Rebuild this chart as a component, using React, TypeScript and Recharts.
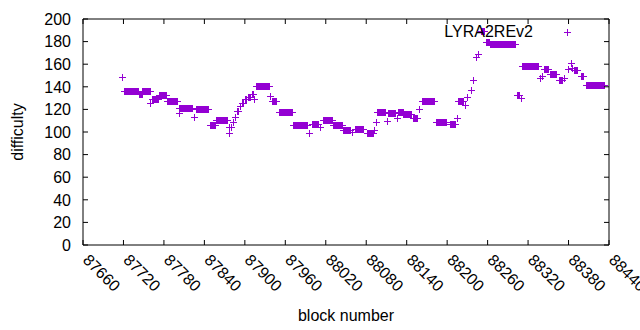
import React from "react";
import {
  ReferenceArea,
  Scatter,
  ScatterChart,
  XAxis,
  YAxis,
} from "recharts";

// runs of equal difficulty (first block, last block, value)
const runStart = [
  87718, 87721, 87743, 87748, 87760, 87763, 87772, 87784, 87802, 87803,
  87824, 87828, 87848, 87857, 87876, 87877, 87880, 87883, 87886, 87889,
  87893, 87896, 87900, 87904, 87910, 87914, 87917, 87938, 87941, 87950,
  87972, 87995, 88000, 88012, 88016, 88031, 88046, 88059, 88063, 88081,
  88092, 88094, 88096, 88111, 88112, 88125, 88127, 88135, 88149, 88158,
  88162, 88183, 88204, 88214, 88216, 88226, 88230, 88235, 88238, 88243,
  88245, 88250, 88258, 88264, 88304, 88310, 88311, 88337, 88340, 88343,
  88353, 88366, 88373, 88379, 88383, 88385, 88388, 88398, 88406,
];
const runEnd = [
  87718, 87741, 87747, 87759, 87760, 87771, 87783, 87800, 87802, 87822,
  87824, 87846, 87856, 87873, 87876, 87877, 87880, 87883, 87886, 87890,
  87893, 87897, 87901, 87907, 87912, 87914, 87936, 87938, 87946, 87970,
  87992, 87995, 88009, 88012, 88029, 88044, 88056, 88059, 88075, 88090,
  88092, 88094, 88108, 88111, 88122, 88125, 88134, 88147, 88155, 88158,
  88181, 88199, 88211, 88214, 88223, 88226, 88230, 88235, 88239, 88243,
  88246, 88255, 88262, 88300, 88306, 88310, 88334, 88337, 88340, 88350,
  88362, 88370, 88373, 88379, 88383, 88385, 88393, 88402, 88433,
];
const runDifficulty = [
  149, 136, 134, 136, 126, 129, 133, 127, 117, 121,
  113, 120, 106, 111, 104, 99, 104, 109, 113, 119,
  123, 126, 129, 131, 134, 129, 141, 132, 127, 118,
  106, 99, 107, 104, 111, 106, 102, 100, 103, 99,
  102, 109, 118, 110, 117, 112, 118, 116, 112, 120,
  127, 109, 107, 112, 127, 124, 131, 137, 146, 166,
  169, 189, 180, 178, 133, 130, 158, 148, 150, 156,
  151, 146, 148, 156, 161, 157, 155, 150, 142,
];

const xTicks = [
  87660, 87720, 87780, 87840, 87900, 87960, 88020, 88080, 88140, 88200,
  88260, 88320, 88380, 88440,
];
const yTicks = [0, 20, 40, 60, 80, 100, 120, 140, 160, 180, 200];

const points: { block: number; difficulty: number }[] = [];
runStart.forEach((start, i) => {
  for (let b = start; b <= runEnd[i]; b++) {
    points.push({ block: b, difficulty: runDifficulty[i] });
  }
});

const COLOR = "#9400D3";
const FONT = "'Liberation Sans', Arial, sans-serif";
const FONT_SIZE = 16;
const PLOT_LEFT = 83;
const PLOT_RIGHT = 609;
const PLOT_TOP = 19;
const PLOT_BOTTOM = 245;
const TICK_LEN = 5;

function Cross(props: any) {
  const { cx, cy } = props;
  if (cx == null || cy == null) return null;
  const x = Math.round(cx) + 0.5;
  const y = Math.round(cy) + 0.5;
  return (
    <path
      d={`M${x - 3.5},${y}h7M${x},${y - 3.5}v7`}
      stroke={COLOR}
      strokeWidth={1}
      fill="none"
      shapeRendering="crispEdges"
    />
  );
}

function XTick(props: any) {
  const { x, payload } = props;
  const tx = x - 1;
  const ty = 261;
  return (
    <g>
      <line x1={x} x2={x} y1={PLOT_BOTTOM} y2={PLOT_BOTTOM - TICK_LEN} stroke="#000" />
      <line x1={x} x2={x} y1={PLOT_TOP} y2={PLOT_TOP + TICK_LEN} stroke="#000" />
      <text
        x={tx}
        y={ty}
        transform={`rotate(45 ${tx} ${ty})`}
        textAnchor="start"
        fontFamily={FONT}
        fontSize={FONT_SIZE}
        fill="#000"
      >
        {payload.value}
      </text>
    </g>
  );
}

function YTick(props: any) {
  const { y, payload } = props;
  return (
    <g>
      <line x1={PLOT_LEFT} x2={PLOT_LEFT + TICK_LEN} y1={y} y2={y} stroke="#000" />
      <line x1={PLOT_RIGHT} x2={PLOT_RIGHT - TICK_LEN} y1={y} y2={y} stroke="#000" />
      <text
        x={71}
        y={y}
        dy="0.36em"
        textAnchor="end"
        fontFamily={FONT}
        fontSize={FONT_SIZE}
        fill="#000"
      >
        {payload.value}
      </text>
    </g>
  );
}

function YTitle() {
  return (
    <text
      x={17}
      y={132}
      transform="rotate(-90 17 132)"
      dy="0.36em"
      textAnchor="middle"
      fontFamily={FONT}
      fontSize={FONT_SIZE}
      fill="#000"
    >
      difficulty
    </text>
  );
}

function KeyBox() {
  return (
    <div
      style={{
        position: "absolute",
        top: 24,
        right: 640 - 533,
        display: "flex",
        alignItems: "center",
        fontFamily: FONT,
        fontSize: FONT_SIZE,
        color: "#000",
        lineHeight: "16px",
        whiteSpace: "nowrap",
      }}
    >
      <span>LYRA2REv2</span>
      <svg
        width={40}
        height={16}
        style={{ position: "absolute", left: "100%", top: 0 }}
      >
        <path
          d="M31,8.5h7M34.5,5v7"
          stroke={COLOR}
          strokeWidth={1}
          fill="none"
          shapeRendering="crispEdges"
        />
      </svg>
    </div>
  );
}

export default function App() {
  return (
    <div
      style={{
        position: "absolute",
        left: 0,
        top: 0,
        width: 640,
        height: 330,
        background: "#fff",
      }}
    >
      <ScatterChart
        width={640}
        height={330}
        margin={{ top: PLOT_TOP, right: 640 - PLOT_RIGHT, bottom: 0, left: 0 }}
      >
        <ReferenceArea
          x1={87660}
          x2={88440}
          y1={0}
          y2={200}
          fill="none"
          stroke="#000"
          strokeWidth={1}
        />
        <XAxis
          type="number"
          dataKey="block"
          domain={[87660, 88440]}
          ticks={xTicks}
          interval={0}
          height={330 - PLOT_BOTTOM}
          tickLine={false}
          axisLine={false}
          tickSize={0}
          tick={<XTick />}
          label={{
            value: "block number",
            position: "insideBottom",
            offset: 9,
            style: { fontFamily: FONT, fontSize: FONT_SIZE, fill: "#000" },
          }}
        />
        <YAxis
          type="number"
          dataKey="difficulty"
          domain={[0, 200]}
          ticks={yTicks}
          interval={0}
          width={PLOT_LEFT}
          tickLine={false}
          axisLine={false}
          tickSize={0}
          tick={<YTick />}
          label={{ content: () => <YTitle /> }}
        />
        <Scatter
          name="LYRA2REv2"
          data={points}
          shape={<Cross />}
          isAnimationActive={false}
        />
      </ScatterChart>
      <KeyBox />
    </div>
  );
}
